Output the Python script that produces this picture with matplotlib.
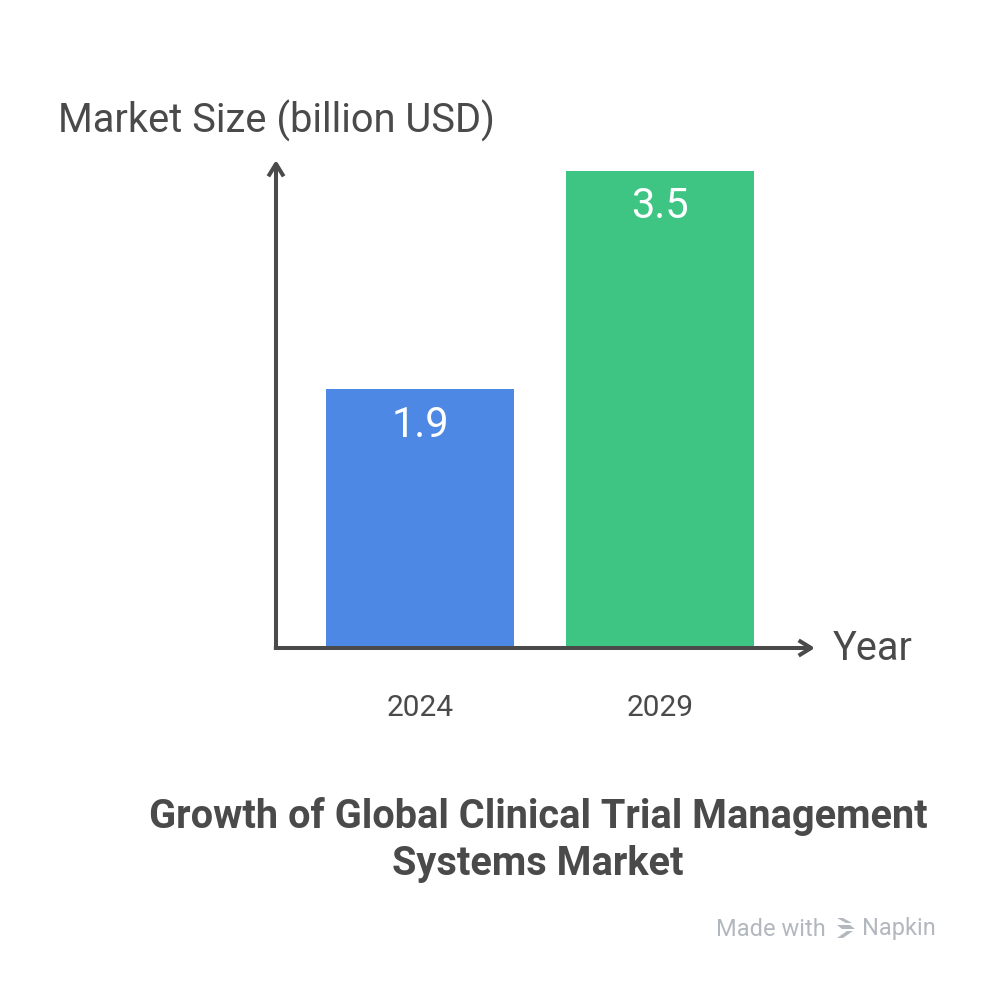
import matplotlib
matplotlib.use("Agg")
import matplotlib.pyplot as plt
from matplotlib.patches import Polygon

categories = ["2024", "2029"]
values = [1.9, 3.5]
colors = ["#4D88E5", "#3EC584"]
y_label = "Market Size (billion USD)"
x_label = "Year"
title = "Growth of Global Clinical Trial Management\nSystems Market"

plt.rcParams['font.family'] = ['Roboto', 'DejaVu Sans']
W = H = 984
fig = plt.figure(figsize=(9.84, 9.84), dpi=100)
fig.patch.set_facecolor("white")

x0, y0 = 276, 648
x1, ytop = 815, 160
ax = fig.add_axes([x0 / W, (H - y0) / H, (x1 - x0) / W, (y0 - ytop) / H])
ax.set_facecolor("none")
ppu_y = 136.3
ax.set_ylim(0, (y0 - ytop) / ppu_y)
ppu_x = 240
c0 = 420
ax.set_xlim((x0 - c0) / ppu_x, (x1 - c0) / ppu_x)
for s in ax.spines.values():
    s.set_visible(False)
ax.set_xticks([])
ax.set_yticks([])

pos = list(range(len(categories)))
bars = ax.bar(pos, values, width=188 / ppu_x, color=colors, zorder=2)
for p, v in zip(pos, values):
    ax.text(p, v - 36 / ppu_y, f"{v}", ha="center", va="center", color="white", fontsize=30, zorder=3)
    ax.text(p, -60 / ppu_y, categories[p], ha="center", va="center", color="#4a4a4a", fontsize=21.5)

axc = "#4a4a4a"
lw = 2.9
arrow = dict(arrowstyle="->,head_length=0.9,head_width=0.55", color=axc, lw=lw,
             shrinkA=0, shrinkB=0, capstyle="butt")
ax.annotate("", xy=(0, 1), xytext=(0, -0.004), xycoords="axes fraction", arrowprops=arrow, zorder=4)
ax.annotate("", xy=(1, 0), xytext=(-0.004, 0), xycoords="axes fraction", arrowprops=arrow, zorder=4)

fig.text(58 / W, 1 - 121 / H, y_label, ha="left", va="center", color=axc, fontsize=28.7)
fig.text(833 / W, 1 - 649 / H, x_label, ha="left", va="center", color=axc, fontsize=28.5)
fig.text(538 / W, 1 - 840 / H, title, ha="center", va="center", color=axc, fontsize=28.6,
         fontweight="bold", linespacing=1.28)

wm = "#b3b8be"
fig.text(826 / W, 1 - 929 / H, "Made with", ha="right", va="center", color=wm, fontsize=17)
fig.text(862 / W, 1 - 929 / H, "Napkin", ha="left", va="center", color=wm, fontsize=17)
# small napkin icon: three slanted stripes
stripes = [
    [(837, 918), (843, 918), (852, 923), (846, 923)],
    [(837, 925), (850, 925), (855, 929), (842, 929)],
    [(837, 938), (843, 938), (853, 931), (847, 931)],
]
for st in stripes:
    fig.patches.append(Polygon([(px / W, 1 - py / H) for px, py in st], closed=True,
                               transform=fig.transFigure, facecolor=wm, edgecolor="none"))

fig.savefig("out.png", dpi=100, facecolor="white")
